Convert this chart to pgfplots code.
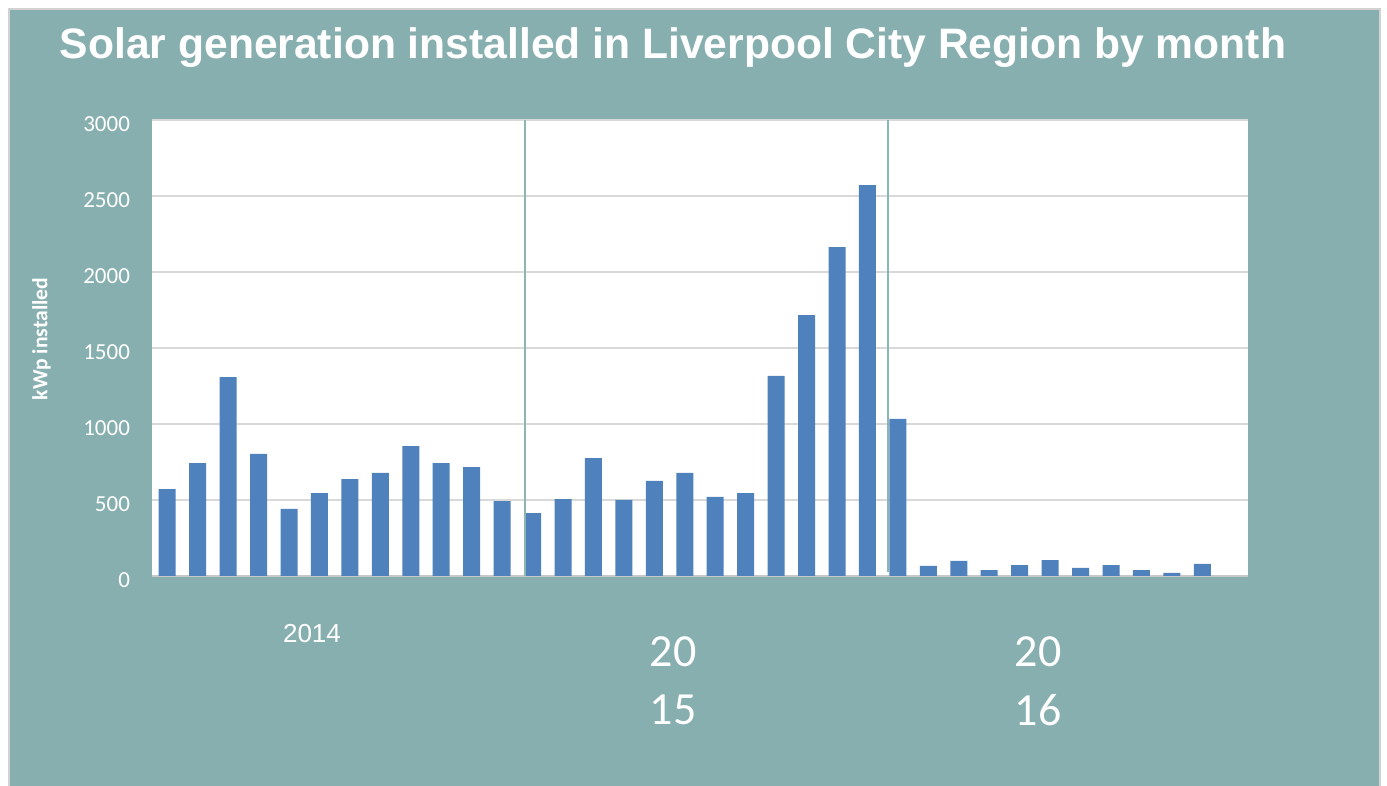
\documentclass[border=0pt]{standalone}
\usepackage{pgfplots}
\pgfplotsset{compat=1.18}
\usepackage{fontspec}
\setmainfont{Carlito}
\newfontfamily\arial{Liberation Sans}
\definecolor{bgteal}{RGB}{136,175,175}
\definecolor{barblue}{RGB}{79,129,189}
\definecolor{gridgray}{RGB}{217,217,217}
\definecolor{axgray}{RGB}{200,200,200}
\definecolor{septeal}{RGB}{140,182,178}
\definecolor{bordergray}{RGB}{210,210,210}
\begin{document}
\begin{tikzpicture}
\useasboundingbox (0,0) rectangle (693.5pt,393pt);
\fill[white] (0,0) rectangle (693.5pt,393pt);
\fill[bgteal] (4.5pt,0) rectangle (690pt,388.5pt);
\draw[bordergray, line width=0.8pt] (4.5pt,-1pt) -- (4.5pt,388.5pt) -- (690pt,388.5pt) -- (690pt,-1pt);
\node[text=white, font=\arial\fontsize{21.3}{25}\selectfont\bfseries] at (336.5pt,369pt) {Solar generation installed in Liverpool City Region by month};
\node[text=white, rotate=90, font=\fontsize{10.8}{13}\selectfont\bfseries] at (20.8pt,223.5pt) {kWp installed};
\node[text=white, font=\arial\fontsize{13}{15}\selectfont] at (156pt,76pt) {2014};
\node[text=white, font=\fontsize{23}{26}\selectfont] at (336.5pt,67pt) {20};
\node[text=white, font=\fontsize{23}{26}\selectfont] at (336.5pt,38pt) {15};
\node[text=white, font=\fontsize{23}{26}\selectfont] at (519pt,67pt) {20};
\node[text=white, font=\fontsize{23}{26}\selectfont] at (519pt,38pt) {16};
\begin{axis}[
  at={(76pt,105pt)}, anchor=south west,
  scale only axis, width=548pt, height=228pt,
  xmin=-0.5, xmax=35.5, ymin=0, ymax=3000,
  ytick={0,500,1000,1500,2000,2500,3000},
  xtick=\empty,
  axis background/.style={fill=white},
  axis x line*=bottom, axis y line*=left,
  x axis line style={draw=axgray, line width=1.2pt, -},
  y axis line style={draw=none},
  major tick length=0pt,
  ymajorgrids, major grid style={draw=gridgray, line width=0.7pt},
  /pgf/number format/assume math mode=true,
  /pgf/number format/1000 sep={},
  yticklabel style={text=white, font=\fontsize{11.5}{13}\selectfont, xshift=-7.5pt, yshift=-2pt},
  clip=false,
]
\addplot[ybar, bar width=8.5pt, fill=barblue, draw=none] coordinates {
(0,572) (1,743) (2,1309) (3,803) (4,441) (5,546) (6,638) (7,678) (8,855) (9,743) (10,717) (11,493)
(12,414) (13,506) (14,776) (15,500) (16,625) (17,678) (18,520) (19,546) (20,1316) (21,1717) (22,2164) (23,2572)
(24,1033) (25,66) (26,99) (27,39) (28,72) (29,105) (30,53) (31,72) (32,39) (33,20) (34,79)
};
\draw[septeal, line width=1pt] (axis cs:11.74,0) -- (axis cs:11.74,3000);
\draw[septeal, line width=1pt] (axis cs:23.68,28) -- (axis cs:23.68,3000);
\end{axis}
\end{tikzpicture}
\end{document}
